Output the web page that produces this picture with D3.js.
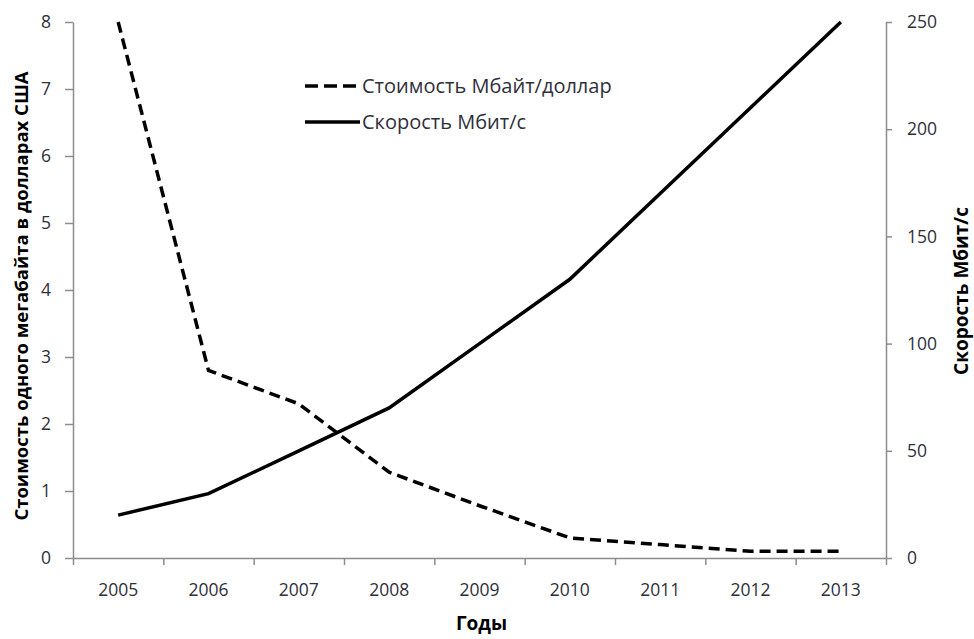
<!DOCTYPE html>
<html>
<head>
<meta charset="utf-8">
<script src="https://cdn.jsdelivr.net/npm/d3@7"></script>
<style>
  body { margin: 0; background: #fff; }
  text { font-family: "Open Sans", sans-serif; }
</style>
</head>
<body>
<svg width="974" height="639"></svg>
<script>
// data
const years = ["2005", "2006", "2007", "2008", "2009", "2010", "2011", "2012", "2013"];
const costPerMb = [8.0, 2.8, 2.3, 1.28, 0.78, 0.3, 0.2, 0.1, 0.1];
const speedMbit = [20, 30, 50, 70, 100, 130, 170, 210, 250];
const leftTicks = [0, 1, 2, 3, 4, 5, 6, 7, 8];
const rightTicks = [0, 50, 100, 150, 200, 250];

const seriesNames = ["Стоимость Мбайт/доллар", "Скорость Мбит/с"];

const svg = d3.select("svg");

const plotLeft = 73, plotRight = 886, plotTop = 22, plotBottom = 558;
const axisColor = "#8c8c8c";
const labelColor = "#2f2f3a";

const x = d3.scaleBand().domain(years).range([plotLeft, plotRight]);
const xEdges = d3.scaleLinear().domain([0, years.length]).range([plotLeft, plotRight]);
const yLeft = d3.scaleLinear().domain([0, 8]).range([plotBottom, plotTop]);
const yRight = d3.scaleLinear().domain([0, 250]).range([plotBottom, plotTop]);

// x axis: labels at band centres, ticks at band edges
const xAxis = svg.append("g")
  .attr("transform", `translate(0,${plotBottom})`)
  .call(d3.axisBottom(x).tickSize(0).tickPadding(26));
xAxis.select(".domain").remove();

const xTicks = svg.append("g")
  .attr("transform", `translate(0,${plotBottom})`)
  .call(d3.axisBottom(xEdges).tickValues(d3.range(years.length + 1)).tickFormat("").tickSize(7).tickSizeOuter(0));

const yAxisL = svg.append("g")
  .attr("transform", `translate(${plotLeft},0)`)
  .call(d3.axisLeft(yLeft).tickValues(leftTicks).tickSize(8).tickSizeOuter(0).tickPadding(14));

const yAxisR = svg.append("g")
  .attr("transform", `translate(${plotRight},0)`)
  .call(d3.axisRight(yRight).tickValues(rightTicks).tickSize(6).tickSizeOuter(0).tickPadding(15));

[xAxis, xTicks, yAxisL, yAxisR].forEach((g) => {
  g.selectAll(".domain, line").attr("stroke", axisColor).attr("stroke-width", 1.5);
  g.selectAll("text")
    .attr("fill", labelColor)
    .style("font-size", "17.5px");
});

// lines
const costLine = d3.line()
  .x((d, i) => x(years[i]) + x.bandwidth() / 2)
  .y((d) => yLeft(d));

const speedLine = d3.line()
  .x((d, i) => x(years[i]) + x.bandwidth() / 2)
  .y((d) => yRight(d));

svg.append("path")
  .datum(costPerMb)
  .attr("d", costLine)
  .attr("fill", "none")
  .attr("stroke", "#000")
  .attr("stroke-width", 3.5)
  .attr("stroke-dasharray", "11,6");

svg.append("path")
  .datum(speedMbit)
  .attr("d", speedLine)
  .attr("fill", "none")
  .attr("stroke", "#000")
  .attr("stroke-width", 3.5);

// legend
const legend = svg.append("g").attr("transform", "translate(305,86)");
const legendRows = legend.selectAll("g")
  .data(seriesNames)
  .enter()
  .append("g")
  .attr("transform", (d, i) => `translate(0,${i * 36})`);

legendRows.append("line")
  .attr("x1", 0).attr("x2", (d, i) => (i === 0 ? 52 : 55))
  .attr("stroke", "#000")
  .attr("stroke-width", 3.5)
  .attr("stroke-dasharray", (d, i) => (i === 0 ? "13,6" : null));

legendRows.append("text")
  .attr("x", 57)
  .attr("dy", "0.35em")
  .attr("fill", labelColor)
  .style("font-size", "20px")
  .text((d) => d);

// axis titles
svg.append("text")
  .attr("transform", `translate(22,${(plotTop + plotBottom) / 2 + 6}) rotate(-90)`)
  .attr("text-anchor", "middle")
  .attr("dy", "0.35em")
  .style("font-size", "18.5px")
  .style("font-weight", "bold")
  .text("Стоимость одного мегабайта в долларах США");

svg.append("text")
  .attr("transform", `translate(961,${(plotTop + plotBottom) / 2 + 1}) rotate(-90)`)
  .attr("text-anchor", "middle")
  .attr("dy", "0.35em")
  .style("font-size", "19px")
  .style("font-weight", "bold")
  .text("Скорость Мбит/с");

svg.append("text")
  .attr("x", (plotLeft + plotRight) / 2 + 2)
  .attr("y", 623)
  .attr("text-anchor", "middle")
  .attr("dy", "0.35em")
  .style("font-size", "19px")
  .style("font-weight", "bold")
  .text("Годы");
</script>
</body>
</html>
